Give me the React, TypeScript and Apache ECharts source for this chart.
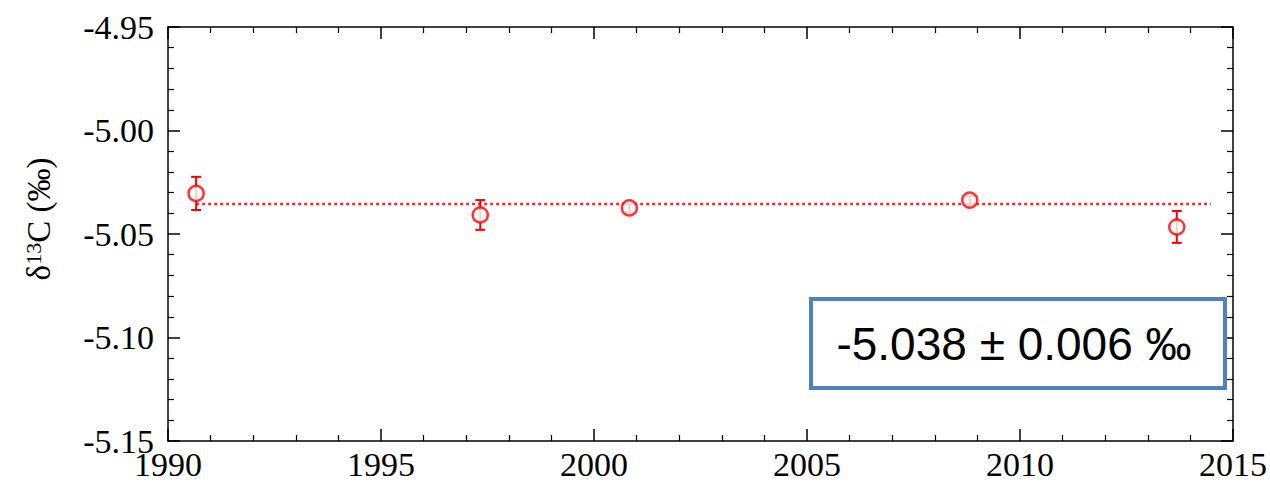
import React, { useEffect, useRef } from "react";
import * as echarts from "echarts";

const years = [1990.66, 1997.33, 2000.83, 2008.82, 2013.68];
const delta13C = [-5.0304, -5.0408, -5.0374, -5.0336, -5.0466];
const errors = [0.008, 0.0072, 0.002, 0.002, 0.0077];
const meanLineX = [1990.66, 2014.48];
const meanValue = -5.0355;
const summaryText = "-5.038 ± 0.006 ‰";

export default function App() {
  const ref = useRef<HTMLDivElement>(null);
  useEffect(() => {
    if (!ref.current) return;
    const chart = echarts.init(ref.current, null, { renderer: "svg" });
    const serif = "Liberation Serif";
    const axisLine = { show: true, lineStyle: { color: "#000", width: 1.5 } };
    const tickStyle = {
      axisTick: { show: true, inside: true, length: 12, lineStyle: { color: "#000", width: 1.5 } },
      minorTick: { show: true, splitNumber: 5, length: 6, lineStyle: { color: "#000", width: 1.2 } },
      splitLine: { show: false },
    };
    const errData = years.map((x, i) => [x, delta13C[i] - errors[i], delta13C[i] + errors[i]]);
    chart.setOption({
      animation: false,
      backgroundColor: "#fff",
      grid: { left: 168, right: 37, top: 27, bottom: 41, containLabel: false },
      xAxis: [
        {
          type: "value",
          min: 1990,
          max: 2015,
          interval: 5,
          position: "bottom",
          axisLine,
          ...tickStyle,
          axisLabel: {
            show: true,
            margin: 6,
            fontFamily: serif,
            fontSize: 34,
            color: "#000",
            formatter: (v: number) => String(Math.round(v)),
          },
        },
        {
          type: "value",
          min: 1990,
          max: 2015,
          interval: 5,
          position: "top",
          axisLine,
          ...tickStyle,
          axisLabel: { show: false },
        },
      ],
      yAxis: [
        {
          type: "value",
          min: -5.15,
          max: -4.95,
          interval: 0.05,
          position: "left",
          axisLine,
          ...tickStyle,
          axisLabel: {
            show: true,
            margin: 14,
            fontFamily: serif,
            fontSize: 34,
            color: "#000",
            padding: [0, 0, 8, 0],
            formatter: (v: number) => v.toFixed(2),
          },
          name: "{d|δ}{s|13}{d|C (‰)}",
          nameLocation: "middle",
          nameGap: 112,
          nameRotate: 90,
          nameTextStyle: {
            fontFamily: serif,
            fontSize: 33,
            color: "#000",
            padding: [0, 0, 0, 30],
            rich: {
              d: { fontFamily: serif, fontSize: 33, color: "#000" },
              s: { fontFamily: serif, fontSize: 22, color: "#000", verticalAlign: "top", padding: [0, 0, 12, 0] },
            },
          },
        },
        {
          type: "value",
          min: -5.15,
          max: -4.95,
          interval: 0.05,
          position: "right",
          axisLine,
          ...tickStyle,
          axisLabel: { show: false },
        },
      ],
      series: [
        {
          type: "line",
          data: meanLineX.map((x) => [x, meanValue]),
          symbol: "none",
          lineStyle: { color: "#ff2a2a", width: 2.5, type: [3, 3] },
          z: 1,
        },
        {
          type: "custom",
          data: errData,
          z: 2,
          renderItem: (params: any, api: any) => {
            const x = api.value(0);
            const lo = api.coord([x, api.value(1)]);
            const hi = api.coord([x, api.value(2)]);
            const cap = 5;
            const style = { stroke: "#ff0000", lineWidth: 2 };
            return {
              type: "group",
              children: [
                { type: "line", shape: { x1: lo[0], y1: lo[1], x2: hi[0], y2: hi[1] }, style },
                { type: "line", shape: { x1: lo[0] - cap, y1: lo[1], x2: lo[0] + cap, y2: lo[1] }, style },
                { type: "line", shape: { x1: hi[0] - cap, y1: hi[1], x2: hi[0] + cap, y2: hi[1] }, style },
              ],
            };
          },
        },
        {
          type: "scatter",
          data: years.map((x, i) => [x, delta13C[i]]),
          symbol: "circle",
          symbolSize: 15,
          itemStyle: { color: "#fff", borderColor: "#ff0000", borderWidth: 2.5 },
          z: 3,
        },
      ],
      graphic: [
        {
          type: "rect",
          shape: { x: 811, y: 299, width: 414, height: 89 },
          style: { fill: "#fff", stroke: "#4f81bd", lineWidth: 4 },
          z: 10,
        },
        {
          type: "text",
          x: 1014,
          y: 344,
          style: {
            text: summaryText,
            fontFamily: "Liberation Sans",
            fontSize: 46,
            fill: "#000",
            align: "center",
            verticalAlign: "middle",
          },
          z: 11,
        },
      ],
    });
    return () => chart.dispose();
  }, []);
  return (
    <div
      ref={ref}
      style={{ position: "fixed", left: 0, top: 0, width: 1270, height: 482 }}
    />
  );
}
